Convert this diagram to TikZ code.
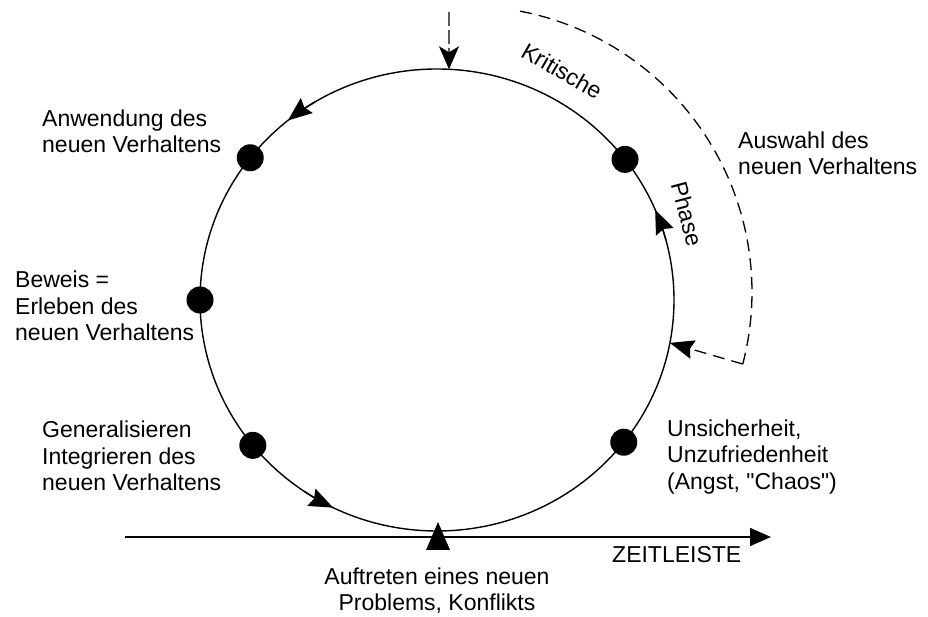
\documentclass[tikz,border=0pt]{standalone}
\usepackage{fontspec}
\newfontfamily\lsans{Liberation Sans}
\usetikzlibrary{arrows.meta,calc}
\begin{document}
\begin{tikzpicture}[x=1pt,y=1pt,
  lbl/.style={font=\lsans\fontsize{23}{26.5}\selectfont, align=left, anchor=west, inner sep=0pt},
  ctr/.style={font=\lsans\fontsize{23}{26}\selectfont, align=center, inner sep=0pt},
  dot/.style={circle, fill=black, minimum size=27pt, inner sep=0pt},
  cyc/.style={line width=1.4pt},
  tipS/.style={-{Stealth[length=24pt,width=19pt,inset=3pt]}},
  dsh/.style={line width=1.3pt, dash pattern=on 12pt off 7pt}
]
\useasboundingbox (0,0) rectangle (928,617);
\coordinate (c) at (437,317);
\coordinate (dc) at (466,325);

% main cycle
\draw[cyc] (c) ellipse[x radius=237, y radius=231];

% dots
\node[dot] (d1) at ($(c)+(142:237 and 231)$) {};
\node[dot] (d2) at ($(c)+(37.5:237 and 231)$) {};
\node[dot] (d3) at ($(c)+(180:237 and 231)$) {};
\node[dot] (d4) at ($(c)+(219:237 and 231)$) {};
\node[dot] (d5) at ($(c)+(322:237 and 231)$) {};

% arrowheads on the cycle
\draw[cyc, tipS] ($(c)+(121:237 and 231)$) arc[start angle=121, end angle=129, x radius=237, y radius=231];
\draw[cyc, tipS] ($(c)+(236:237 and 231)$) arc[start angle=236, end angle=244, x radius=237, y radius=231];
\draw[cyc, tipS] ($(c)+(15:237 and 231)$) arc[start angle=15, end angle=23, x radius=237, y radius=231];

% entry arrow at top
\coordinate (topin) at (449,605);
\coordinate (toptip) at ($(c)+(87.1:237 and 231)$);
\draw[cyc, dash pattern=on 14pt off 4pt, -{Stealth[length=23pt,width=20pt,inset=6pt]}] (topin) -- (toptip);

% dashed critical phase arc
\draw[dsh] ($(dc)+(79.1:286)$) arc[start angle=79.1, end angle=-14.6, radius=286] coordinate (dend);
\coordinate (dtip) at ($(c)+(-10.7:237 and 231)$);
\draw[dsh, tipS] (dend) -- (dtip);

% timeline
\coordinate (tl0) at (125,80);
\coordinate (tl1) at (771,80);
\draw[line width=1.6pt, -{Triangle[length=21pt,width=18pt]}] (tl0) -- (tl1);
\coordinate (tri) at (438,67);
\fill (tri) ++(-12,0) -- ++(24,0) -- ++(-12,28) -- cycle;

% labels
\node[lbl] (l1) at (42,485.5) {Anwendung des\\neuen Verhaltens};
\node[lbl] (l2) at (738,463.5) {Auswahl des\\neuen Verhaltens};
\node[lbl] (l3) at (15,311) {Beweis =\\Erleben des\\neuen Verhaltens};
\node[lbl] (l4) at (42,161) {Generalisieren\\Integrieren des\\neuen Verhaltens};
\node[lbl] (l5) at (667,160) {Unsicherheit,\\Unzufriedenheit\\(Angst, "Chaos")};
\node[lbl] (l6) at (612,62) {ZEITLEISTE};
\node[ctr] (l7) at (437,26.5) {Auftreten eines neuen\\Problems, Konflikts};
\node[ctr, rotate=-30] (kr) at (562,546) {Kritische};
\node[ctr, rotate=-75] (ph) at (687,403) {Phase};
\end{tikzpicture}
\end{document}
